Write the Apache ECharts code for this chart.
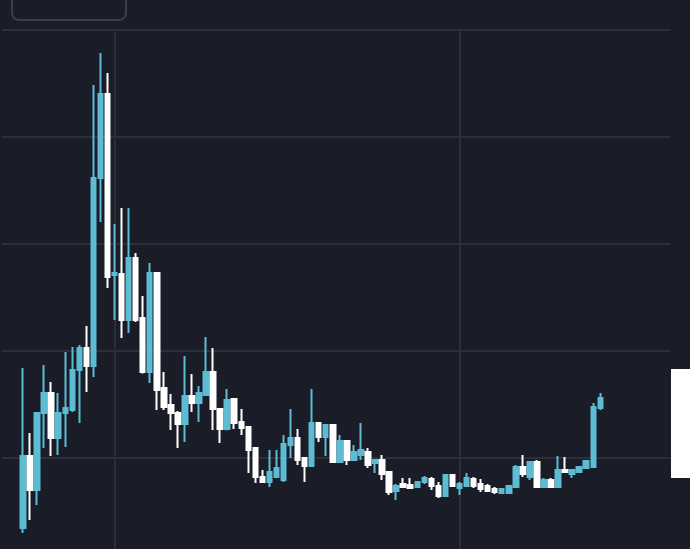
<!DOCTYPE html>
<html>
<head>
<meta charset="utf-8">
<style>
  html, body { margin: 0; padding: 0; background: #1a1d27; }
  #chart { width: 690px; height: 549px; }
</style>
<script src="https://cdn.jsdelivr.net/npm/echarts@6/dist/echarts.min.js"></script>
</head>
<body>
<div id="chart"></div>
<script>
// OHLC values: [open, close, low, high]
var openVals = [3.46,10.19,7.01,14.21,16.07,11.87,14.21,14.49,18.22,20.28,
  18.60,36.17,44.02,27.10,27.20,22.90,28.69,23.08,18.04,27.29,
  16.54,14.95,14.21,13.18,15.79,15.14,15.89,18.04,14.58,12.71,
  15.51,13.36,12.90,10.93,8.22,7.76,8.22,7.94,11.21,11.87,
  10.00,9.25,13.27,11.96,13.08,9.63,11.59,9.81,10.28,10.56,
  9.53,9.81,8.69,6.92,7.57,7.48,7.29,7.76,8.04,7.38,
  6.45,8.41,7.20,7.38,8.04,7.57,7.38,7.10,6.73,6.73,
  7.29,9.16,8.22,9.63,7.29,7.94,7.29,8.88,8.50,8.69,
  9.07,9.16,14.67];
var closeVals = [10.19,7.01,14.21,16.07,11.87,14.21,14.67,18.22,20.28,18.60,
  36.17,44.02,26.92,27.29,22.90,28.69,22.90,18.04,27.29,16.36,
  14.77,14.21,13.18,15.79,15.14,16.07,18.04,14.58,12.71,15.42,
  13.27,12.80,10.75,8.22,7.76,8.69,9.07,11.31,11.87,9.81,
  9.25,13.27,11.96,13.08,9.63,11.59,9.81,10.56,10.75,9.35,
  9.81,8.50,6.82,7.38,7.29,7.20,7.76,8.13,7.38,6.45,
  8.41,7.38,7.57,8.13,7.38,7.10,6.92,6.82,7.10,7.38,
  9.16,8.50,9.63,7.29,7.94,7.29,8.88,8.69,8.88,9.16,
  9.72,14.77,15.61];
var lowVals = [2.99,4.21,5.61,10.93,10.19,10.28,11.03,14.30,13.27,16.17,
  17.57,32.06,25.89,22.90,21.21,21.68,22.71,17.90,17.01,14.49,
  14.49,12.62,10.93,11.50,14.30,13.36,15.80,12.62,11.40,12.60,
  12.71,12.15,8.60,7.66,7.66,7.29,8.13,7.76,10.00,9.35,
  7.76,9.15,11.50,10.19,9.55,9.55,9.35,9.75,9.81,9.07,
  8.60,7.94,6.54,6.07,7.20,7.15,7.20,7.57,7.01,6.26,
  6.36,7.29,6.54,7.29,7.20,6.82,6.82,6.64,6.64,6.64,
  7.20,8.22,7.94,7.20,7.25,7.25,7.25,8.65,8.13,8.60,
  8.97,9.07,14.49];
var highVals = [18.41,12.34,14.30,18.69,17.10,16.07,19.91,20.37,20.56,22.34,
  44.86,47.85,45.98,31.87,33.36,33.36,29.16,25.14,28.22,27.38,
  18.04,15.98,14.39,19.53,17.85,16.73,21.31,20.28,14.65,16.45,
  15.60,14.58,13.00,11.00,8.88,10.75,10.75,12.15,14.58,12.71,
  10.10,16.45,13.36,13.15,13.15,12.15,11.65,11.21,13.27,10.93,
  9.90,10.28,8.75,7.57,8.13,8.13,7.85,8.32,8.22,7.76,
  8.50,8.45,7.76,8.60,8.22,8.04,7.57,7.29,7.20,7.48,
  9.35,10.28,9.72,9.81,8.13,8.13,10.19,10.09,8.95,9.25,
  9.81,15.14,16.07];

// empty slots before / after the visible candles (the view is a window of a longer series)
var padBefore = 3;
var padAfter = 10;
// candle positions where the vertical grid lines fall
var markedCandles = [13, 62];

var categories = [];
var ohlc = [];
for (var i = 0; i < padBefore; i++) { categories.push('p' + i); ohlc.push('-'); }
for (var j = 0; j < openVals.length; j++) {
  categories.push('c' + j);
  ohlc.push([openVals[j], closeVals[j], lowVals[j], highVals[j]]);
}
for (var k = 0; k < padAfter; k++) { categories.push('q' + k); ohlc.push('-'); }

var splitIdx = markedCandles.map(function (m) { return m + padBefore; });

var chart = echarts.init(document.getElementById('chart'), null, { renderer: 'canvas' });
chart.setOption({
  backgroundColor: '#1a1d27',
  animation: false,
  grid: { left: 1.9, right: 19.3, top: 30, height: 535, outerBoundsMode: 'none', containLabel: false },
  xAxis: {
    type: 'category',
    data: categories,
    boundaryGap: false,
    axisLine: { show: false },
    axisTick: { show: false },
    axisLabel: { show: false },
    splitLine: {
      show: true,
      interval: function (index) { return splitIdx.indexOf(index) >= 0; },
      lineStyle: { color: '#2b2f3a', width: 2 }
    }
  },
  yAxis: {
    type: 'value',
    min: 0, max: 50, interval: 10,
    axisLine: { show: false },
    axisTick: { show: false },
    axisLabel: { show: false },
    splitLine: { show: true, lineStyle: { color: '#2b2f3a', width: 2 } }
  },
  series: [{
    type: 'candlestick',
    data: ohlc,
    barWidth: 5,
    clip: false,
    itemStyle: {
      color: '#5cbcd4',
      color0: '#ffffff',
      borderColor: '#5cbcd4',
      borderColor0: '#ffffff',
      borderWidth: 2
    }
  }],
  graphic: [
    {
      type: 'rect',
      shape: { x: 12, y: -20, width: 114, height: 40, r: 7 },
      style: { fill: 'none', stroke: '#3a3e4a', lineWidth: 2 }
    },
    {
      type: 'rect',
      shape: { x: 671, y: 369, width: 19, height: 109 },
      style: { fill: '#ffffff' }
    }
  ]
});
</script>
</body>
</html>
